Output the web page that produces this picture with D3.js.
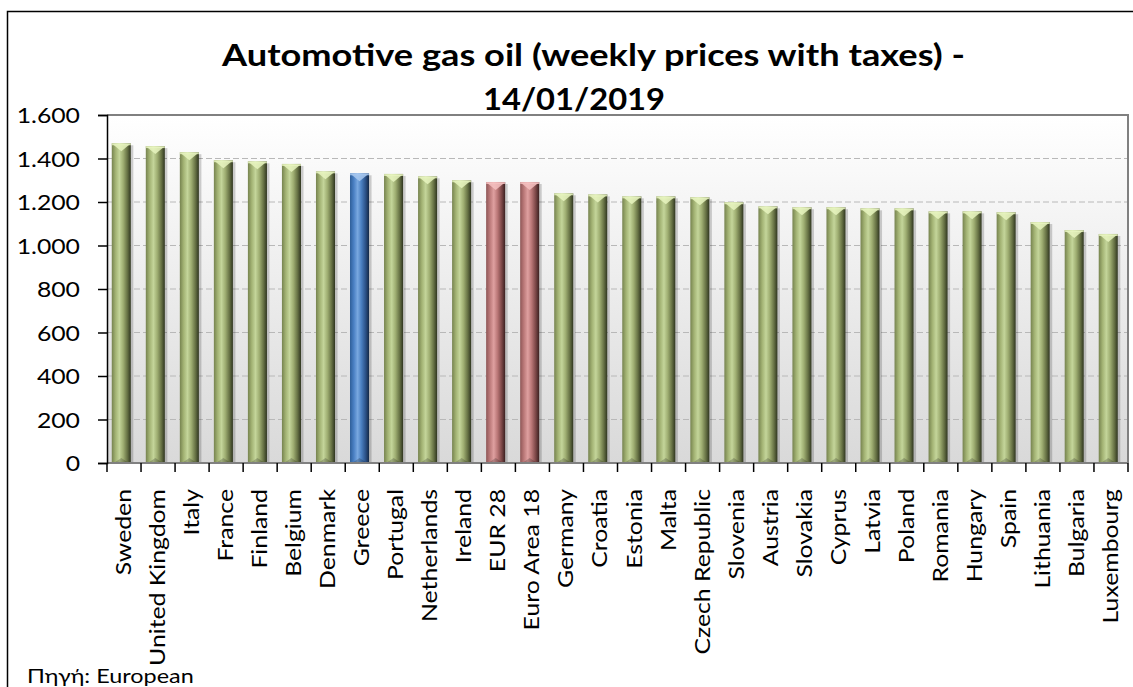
<!DOCTYPE html>
<html>
<head>
  <title>Automotive gas oil</title>
  <script src="https://cdn.jsdelivr.net/npm/d3@7"></script>
  <style>
    body { margin: 0; background: #fff; }
    text { font-family: Lato, "Open Sans", sans-serif; fill: #000; }
  </style>
</head>
<body>
<script type="text/javascript">
// data
var countries = ["Sweden", "United Kingdom", "Italy", "France", "Finland", "Belgium", "Denmark",
  "Greece", "Portugal", "Netherlands", "Ireland", "EUR 28", "Euro Area 18", "Germany", "Croatia",
  "Estonia", "Malta", "Czech Republic", "Slovenia", "Austria", "Slovakia", "Cyprus", "Latvia",
  "Poland", "Romania", "Hungary", "Spain", "Lithuania", "Bulgaria", "Luxembourg"];
var prices = [1470, 1457, 1429, 1392, 1387, 1375, 1341, 1332, 1329, 1318, 1300, 1292, 1292, 1240,
  1235, 1226, 1226, 1222, 1199, 1180, 1176, 1176, 1171, 1171, 1157, 1157, 1153, 1108, 1071, 1053];
var highlight = {"Greece": "blue", "EUR 28": "red", "Euro Area 18": "red"};
var yTicks = [0, 200, 400, 600, 800, 1000, 1200, 1400, 1600];

var W = 1133, H = 687;
var margin = {top: 115, right: 5, bottom: 224, left: 107},
    width = 1128 - margin.left,
    height = 463 - margin.top;

var data = countries.map(function(c, i){ return {name: c, val: prices[i]}; });

//the original text is drawn a bit wider than its font, so stretch it
function stretch(sel, k){
  sel.each(function(){
    var l = this.getComputedTextLength();
    d3.select(this).attr("textLength", l * k).attr("lengthAdjust", "spacingAndGlyphs");
  });
}

var svg = d3.select("body").append("svg")
    .attr("width", W)
    .attr("height", H);

var defs = svg.append("defs");

//plot background gradient
var bg = defs.append("linearGradient").attr("id", "bg")
    .attr("x1", 0).attr("y1", 0).attr("x2", 0).attr("y2", 1);
bg.append("stop").attr("offset", "0%").attr("stop-color", "#ffffff");
bg.append("stop").attr("offset", "100%").attr("stop-color", "#d9d9d9");

//cylinder gradients
var palettes = {
  green: ["#76834f", "#a3b374", "#c4d59a", "#9fae72", "#667144", "#2f3520"],
  blue:  ["#2f5f99", "#4a80c4", "#79a8e0", "#4a7fc0", "#2b5187", "#142845"],
  red:   ["#8e5656", "#bc7a7a", "#dfa0a0", "#b97676", "#7a4646", "#3a2020"]
};
var caps = {green: "#e8f5c0", blue: "#a9c9f0", red: "#f5c0c0"};
Object.keys(palettes).forEach(function(k){
  var g = defs.append("linearGradient").attr("id", "cyl-" + k)
      .attr("x1", 0).attr("y1", 0).attr("x2", 1).attr("y2", 0);
  var offs = [0, 0.2, 0.4, 0.6, 0.82, 1];
  palettes[k].forEach(function(c, i){
    g.append("stop").attr("offset", offs[i]).attr("stop-color", c);
  });
});

//outer chart border
svg.append("rect")
    .attr("x", 7.5).attr("y", 11.5)
    .attr("width", W + 10).attr("height", H + 10)
    .style("fill", "none").style("stroke", "#000").style("stroke-width", 1.5);

//title
svg.append("text")
    .attr("x", 593.5).attr("y", 66)
    .attr("text-anchor", "middle")
    .attr("textLength", 743).attr("lengthAdjust", "spacingAndGlyphs")
    .style("font-size", "30px").style("font-weight", "bold")
    .text("Automotive gas oil (weekly prices with taxes) -");
svg.append("text")
    .attr("x", 574).attr("y", 110)
    .attr("text-anchor", "middle")
    .attr("textLength", 182).attr("lengthAdjust", "spacingAndGlyphs")
    .style("font-size", "30px").style("font-weight", "bold")
    .text("14/01/2019");

var g = svg.append("g")
    .attr("transform", "translate(" + margin.left + "," + margin.top + ")");

var x = d3.scaleBand()
    .domain(countries)
    .range([0, width])
    .padding(0);

var y = d3.scaleLinear()
    .domain([0, 1600])
    .range([height, 0]);

g.append("rect")
    .attr("width", width).attr("height", height)
    .style("fill", "url(#bg)");

//gridlines
g.selectAll(".grid")
    .data(yTicks.filter(function(t){ return t > 0 && t < 1600; }))
    .enter().append("line")
    .attr("class", "grid")
    .attr("x1", 0).attr("x2", width)
    .attr("y1", function(d){ return y(d); })
    .attr("y2", function(d){ return y(d); })
    .style("stroke", "#b8b8b8")
    .style("stroke-dasharray", "6,3");

//plot border (top and right)
g.append("path")
    .attr("d", "M0," + y(1600) + "H" + width + "V" + height)
    .style("fill", "none").style("stroke", "#808080").style("stroke-width", 2);

//bars
var bw = x.bandwidth();
var barW = bw * 0.56;
var bars = g.selectAll(".bar")
    .data(data)
    .enter().append("g")
    .attr("class", "bar")
    .attr("transform", function(d){ return "translate(" + (x(d.name) + bw * 0.14) + ",0)"; });

bars.append("rect")
    .attr("x", barW).attr("width", 2.5)
    .attr("y", function(d){ return y(d.val) + 2; })
    .attr("height", function(d){ return height - y(d.val) - 2; })
    .style("fill", "rgba(0,0,0,0.18)");

bars.append("rect")
    .attr("width", barW)
    .attr("y", function(d){ return y(d.val); })
    .attr("height", function(d){ return height - y(d.val); })
    .style("fill", function(d){ return "url(#cyl-" + (highlight[d.name] || "green") + ")"; });

//top cap
bars.append("rect")
    .attr("width", barW).attr("height", 2)
    .attr("y", function(d){ return y(d.val); })
    .style("fill", function(d){ return caps[highlight[d.name] || "green"]; })
    .style("opacity", 0.8);
bars.append("path")
    .attr("d", function(d){
      var t = y(d.val) + 1;
      return "M1," + t + "L" + (barW - 1) + "," + t + "L" + (barW / 2) + "," + (t + 7) + "Z";
    })
    .style("fill", function(d){ return caps[highlight[d.name] || "green"]; })
    .style("opacity", 0.85);

//base shading
bars.append("path")
    .attr("d", function(d){
      return "M2," + height + "L" + (barW / 2) + "," + (height - 5) + "L" + (barW - 2) + "," + height + "Z";
    })
    .style("fill", "rgba(0,0,0,0.2)");

//bottom axis line
g.append("line")
    .attr("x1", 0).attr("x2", width)
    .attr("y1", height).attr("y2", height)
    .style("stroke", "#808080").style("stroke-width", 2);

//y axis
var yAxis = g.append("g")
    .call(d3.axisLeft(y).tickValues(yTicks).tickSize(9).tickPadding(18)
      .tickFormat(function(d){ return d3.format(",")(d).replace(",", "."); }));
yAxis.select(".domain").style("stroke", "#000").style("stroke-width", 1.5);
yAxis.selectAll(".tick line").style("stroke", "#000").style("stroke-width", 1.5);
yAxis.selectAll("text")
    .style("font-family", "Lato, sans-serif")
    .style("font-size", "21px")
    .style("fill", "#000")
    .attr("dy", "0.36em")
    .call(stretch, 1.18);

//x ticks at slot boundaries
g.selectAll(".xtick")
    .data(d3.range(countries.length + 1))
    .enter().append("line")
    .attr("class", "xtick")
    .attr("x1", function(i){ return i * bw; })
    .attr("x2", function(i){ return i * bw; })
    .attr("y1", height).attr("y2", height + 9)
    .style("stroke", "#000").style("stroke-width", 1.5);

//x labels
g.selectAll(".xlabel")
    .data(countries)
    .enter().append("text")
    .attr("class", "xlabel")
    .attr("transform", function(d){
      return "translate(" + (x(d) + bw / 2 + 7) + "," + (height + 26) + ") rotate(-90)";
    })
    .attr("text-anchor", "end")
    .style("font-size", "21px")
    .text(function(d){ return d; })
    .call(stretch, 1.18);

//source note
svg.append("text")
    .attr("x", 27).attr("y", 683)
    .style("font-size", "20px")
    .text("Πηγή: European")
    .call(stretch, 1.17);
</script>
</body>
</html>
